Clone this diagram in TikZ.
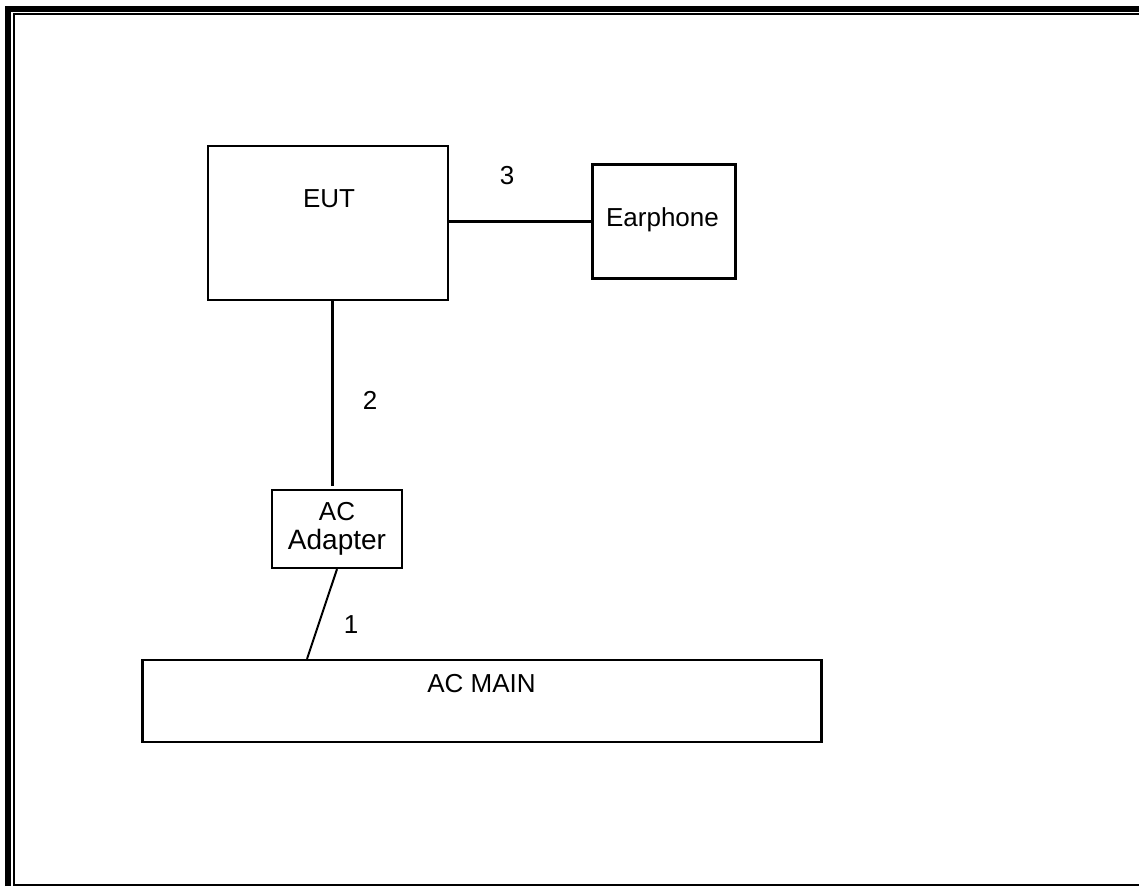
\documentclass[tikz,border=0pt]{standalone}
\usepackage{fontspec}
\setmainfont{Liberation Sans}
\usetikzlibrary{positioning}

\begin{document}
\begin{tikzpicture}[x=1pt, y=-1pt,
    boxnode/.style={rectangle, draw=black, line width=2.2pt, inner sep=0pt},
    labelnode/.style={inner sep=0pt, font=\fontsize{26}{29}\selectfont},
    cable/.style={draw=black, line width=2.2pt}]
    \useasboundingbox (0,0) rectangle (1139,886);
    % Frame
    \draw[line width=6pt, miter limit=10] (8,886) -- (8,9) -- (1139,9);
    \draw[line width=2.2pt] (1139,14) -- (14,14) -- (14,885) -- (1139,885);

    %Nodes
    \node[boxnode, minimum width=240, minimum height=154] (eut) at (328,223) {};
    \node[labelnode] (euttext) at (329,198.5) {EUT};
    \node[boxnode, minimum width=143, minimum height=114] (earphone) at (664,221.5) {};
    \node[labelnode] (earphonetext) at (662.5,220) {Earphone};
    \node[boxnode, minimum width=130, minimum height=78, align=center, labelnode, draw, line width=2.2pt] (adapter) at (337,529) {AC\\\fontsize{28}{29}\selectfont Adapter};
    \node[boxnode, minimum width=679, minimum height=82] (acmain) at (482,701) {};
    \node[labelnode] (acmaintext) at (481.5,684) {AC MAIN};

    % Cables
    \draw[cable] (eut.east |- earphone.west) -- (earphone.west);
    \draw[cable, line width=3pt] ([xshift=-5]adapter.north |- eut.south) -- ([xshift=-5, yshift=3]adapter.north);
    \draw[cable, line width=2pt] (adapter.south) -- ([xshift=-175]acmain.north);

    % Cable numbers
    \node[labelnode] (num3) at (507,175.5) {3};
    \node[labelnode] (num2) at (370,400) {2};
    \node[labelnode] (num1) at (351,625) {1};
\end{tikzpicture}
\end{document}
